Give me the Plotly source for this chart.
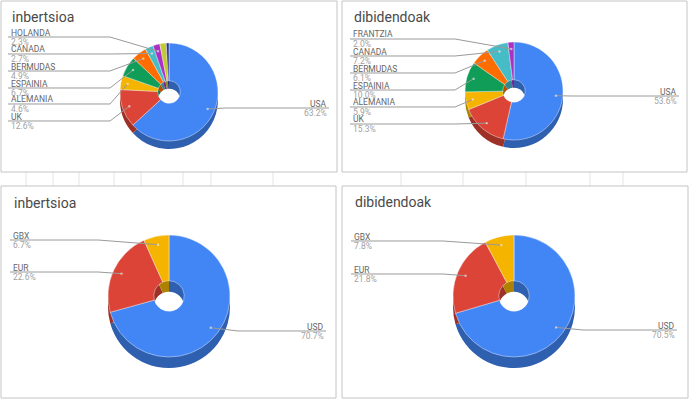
import math
import plotly.graph_objects as go

# ---------------- data ----------------
inv_country_names = ["USA", "UK", "ALEMANIA", "ESPAINIA", "BERMUDAS", "CANADA", "HOLANDA", "FRANTZIA", "BESTE"]
inv_country_values = [63.2, 12.6, 4.6, 6.7, 4.9, 2.7, 2.3, 2.1, 0.9]
inv_country_labeled = 7

div_country_names = ["USA", "UK", "ALEMANIA", "ESPAINIA", "BERMUDAS", "CANADA", "FRANTZIA"]
div_country_values = [53.6, 15.3, 5.9, 10.0, 6.1, 7.2, 2.0]
div_country_labeled = 7

currency_names = ["USD", "EUR", "GBX"]
inv_currency_values = [70.7, 22.6, 6.7]
div_currency_values = [70.5, 21.8, 7.8]

titles = ["inbertsioa", "dibidendoak", "inbertsioa", "dibidendoak"]

# ---------------- styles ----------------
W, H = 690, 402
COLORS = ["#4285F4", "#DB4437", "#F4B400", "#0F9D58", "#FF6D00",
          "#46BDC6", "#AB30C4", "#C0CA33", "#283593"]
FONT = "Roboto"
LABEL_SIZE = 8.5


def darker(hex_color, f=0.72):
    h = hex_color.lstrip("#")
    r, g, b = (int(h[i:i + 2], 16) for i in (0, 2, 4))
    return "rgb(%d,%d,%d)" % (r * f, g * f, b * f)


def X(x):
    return x / W


def Y(y):
    return 1 - y / H


panels = [
    dict(names=inv_country_names, values=inv_country_values, labeled=inv_country_labeled,
         box=(1, 1, 337, 172), title_xy=(10, 17), cx=169, cy=92, R=49, depth=8, hole=0.23,
         left_x=10, right_x=328, left_y=[121, 104, 88, 71, 54, 37], right_y=[108]),
    dict(names=div_country_names, values=div_country_values, labeled=div_country_labeled,
         box=(342, 1, 687, 172), title_xy=(352, 17), cx=514, cy=91, R=49, depth=8, hole=0.23,
         left_x=352, right_x=678, left_y=[124, 107, 90, 73, 56, 39], right_y=[96]),
    dict(names=currency_names, values=inv_currency_values, labeled=3,
         box=(1, 186, 336, 398), title_xy=(12, 203), cx=169, cy=296, R=61, depth=11, hole=0.25,
         left_x=12, right_x=325, left_y=[272, 240], right_y=[331]),
    dict(names=currency_names, values=div_currency_values, labeled=3,
         box=(342, 186, 688, 398), title_xy=(353, 202), cx=514, cy=296, R=61, depth=11, hole=0.25,
         left_x=353, right_x=676, left_y=[274, 241], right_y=[330]),
]

fig = go.Figure()
shapes = []
annotations = []

# spreadsheet grid ticks in the gap between charts
for gx in [26, 53, 79, 114, 141, 183, 211, 273, 401, 463, 526, 590, 623]:
    shapes.append(dict(type="line", xref="paper", yref="paper", x0=X(gx), x1=X(gx),
                       y0=Y(172), y1=Y(186), line=dict(color="#e4e4e4", width=1), layer="below"))

for i, p in enumerate(panels):
    x0, y0, x1, y1 = p["box"]
    shapes.append(dict(type="rect", xref="paper", yref="paper", x0=X(x0), x1=X(x1),
                       y0=Y(y1), y1=Y(y0), line=dict(color="#c4c4c4", width=1),
                       fillcolor="white", layer="below"))
    annotations.append(dict(text=titles[i], x=X(p["title_xy"][0]), y=Y(p["title_xy"][1]),
                            xref="paper", yref="paper", xanchor="left", yanchor="middle",
                            showarrow=False, font=dict(family=FONT, size=14, color="#4a4a4a")))

    cx, cy, R, d = p["cx"], p["cy"], p["R"], p["depth"]
    n = len(p["values"])
    cols = COLORS[:n]
    # side (depth) of the 3D pie
    fig.add_trace(go.Pie(
        values=p["values"], labels=p["names"], sort=False, direction="clockwise", rotation=0,
        hole=p["hole"], textinfo="none", hoverinfo="skip", showlegend=False,
        marker=dict(colors=[darker(c) for c in cols], line=dict(width=0)),
        domain=dict(x=[X(cx - R), X(cx + R)], y=[Y(cy + d + R), Y(cy + d - R)]),
    ))
    # top face
    fig.add_trace(go.Pie(
        values=p["values"], labels=p["names"], sort=False, direction="clockwise", rotation=0,
        hole=p["hole"], textinfo="none", hoverinfo="label+percent", showlegend=False,
        marker=dict(colors=cols, line=dict(width=0.6, color="rgba(255,255,255,0.7)")),
        domain=dict(x=[X(cx - R), X(cx + R)], y=[Y(cy + R), Y(cy - R)]),
    ))

    # labels with leader lines
    total = sum(p["values"])
    cum = 0.0
    li = ri = 0
    for k in range(n):
        v = p["values"][k]
        mid = cum + v / 2
        cum += v
        if k >= p["labeled"]:
            continue
        ang = 2 * math.pi * mid / total
        ptx = cx + 0.86 * R * math.sin(ang)
        pty = cy - 0.86 * R * math.cos(ang)
        name = p["names"][k]
        pct = "%.1f%%" % v
        if math.sin(ang) >= 0:
            ly = p["right_y"][ri]
            ri += 1
            ex = cx + R + 8
            path = "M %f %f L %f %f L %f %f" % (X(ptx), Y(pty), X(ex), Y(ly),
                                                 X(p["right_x"] + 1), Y(ly))
            tx, xa = p["right_x"], "right"
        else:
            ly = p["left_y"][li]
            li += 1
            ex = min(cx - R - 10, ptx)
            path = "M %f %f L %f %f L %f %f" % (X(p["left_x"] - 2), Y(ly), X(ex), Y(ly),
                                                 X(ptx), Y(pty))
            tx, xa = p["left_x"], "left"
        shapes.append(dict(type="path", xref="paper", yref="paper", path=path,
                           line=dict(color="#9a9a9a", width=1), layer="above"))
        shapes.append(dict(type="circle", xref="paper", yref="paper",
                           x0=X(ptx - 1.2), x1=X(ptx + 1.2), y0=Y(pty + 1.2), y1=Y(pty - 1.2),
                           line=dict(width=0), fillcolor="rgba(255,255,255,0.55)", layer="above"))
        annotations.append(dict(text=name, x=X(tx), y=Y(ly - 4.5), xref="paper", yref="paper",
                                xanchor=xa, yanchor="middle", showarrow=False, borderpad=0,
                                font=dict(family=FONT, size=LABEL_SIZE, color="#666666")))
        annotations.append(dict(text=pct, x=X(tx), y=Y(ly + 5), xref="paper", yref="paper",
                                xanchor=xa, yanchor="middle", showarrow=False, borderpad=0,
                                font=dict(family=FONT, size=LABEL_SIZE, color="#a2a2a2")))

fig.update_layout(
    width=W, height=H, margin=dict(l=0, r=0, t=0, b=0),
    paper_bgcolor="white", plot_bgcolor="white",
    shapes=shapes, annotations=annotations, showlegend=False,
)

fig.write_html("out.html", config={"displayModeBar": False},
               post_script="document.body.style.margin='0';document.body.style.padding='0';")
